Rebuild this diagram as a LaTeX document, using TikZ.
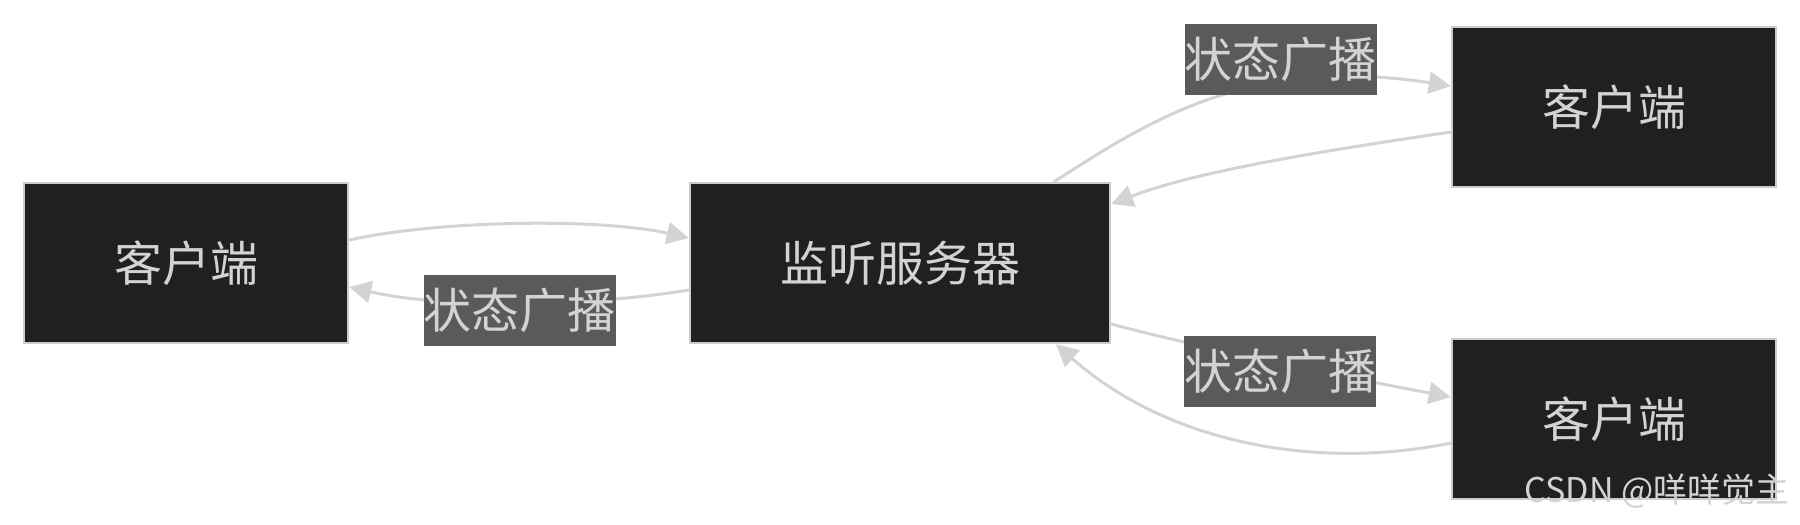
\documentclass[tikz,border=0pt]{standalone}
\usepackage{fontspec}
\setmainfont{Noto Sans CJK SC}
\usetikzlibrary{arrows.meta,calc,positioning}
\definecolor{boxfill}{HTML}{1F2020}
\definecolor{boxline}{HTML}{CCCCCC}
\definecolor{tagfill}{HTML}{5A5A5A}
\definecolor{inktext}{HTML}{D3D3D3}
\definecolor{wire}{HTML}{D3D3D3}
\tikzset{body/.style={draw=boxline, fill=boxfill, line width=1.2pt, text=inktext, font=\fontsize{24}{28}\selectfont, inner sep=0pt}, lab/.style={fill=tagfill, text=inktext, font=\fontsize{24}{28}\selectfont, inner sep=0pt, minimum width=95.5pt, minimum height=35.5pt}, link/.style={-{Triangle[length=11pt,width=11pt]}, line width=1.5pt, color=wire}, wm/.style={font=\fontsize{17}{20}\selectfont, text=inktext}}

\begin{document}
\begin{tikzpicture}[x=0.5pt,y=-0.5pt]
\useasboundingbox (0,0) rectangle (1800,525);
\node[body, minimum width=162pt, minimum height=80pt] (cliL) at (186,263) {客户端};
\node[body, minimum width=210pt, minimum height=80pt] (srv) at (900,263) {监听服务器};
\node[body, minimum width=162pt, minimum height=80pt] (cliT) at (1614,107) {客户端};
\node[body, minimum width=162pt, minimum height=80pt] (cliB) at (1614,419) {客户端};
% client -> server and the broadcasts back
\draw[link] ($(cliL.east)+(0,-23)$) .. controls (440,220) and (600,218) .. ($(srv.west)+(0,-25)$);
\draw[link] ($(srv.west)+(0,27)$) .. controls (600,305) and (450,310) .. ($(cliL.east)+(0,24)$) node[lab, pos=0.5, xshift=-2pt, yshift=-4pt] (tagL) {状态广播};
\draw[link] ($(srv.north)+(154,0)$) .. controls (1150,120) and (1250,55) .. ($(cliT.west)+(0,-21)$) node[lab, pos=0.65, xshift=4pt, yshift=12.5pt] (tagT) {状态广播};
\draw[link] ($(cliT.west)+(0,25)$) .. controls (1330,150) and (1200,170) .. ($(srv.east)+(0,-59)$);
\draw[link] ($(srv.east)+(0,61)$) .. controls (1200,348) and (1360,380) .. ($(cliB.west)+(0,-22)$) node[lab, pos=0.5, yshift=-4pt] (tagB) {状态广播};
\draw[link] ($(cliB.west)+(0,24)$) .. controls (1320,470) and (1170,445) .. ($(srv.south)+(156,0)$);
\node[wm] (mark1) at (1657,491) {CSDN @咩咩觉主};
\end{tikzpicture}
\end{document}
